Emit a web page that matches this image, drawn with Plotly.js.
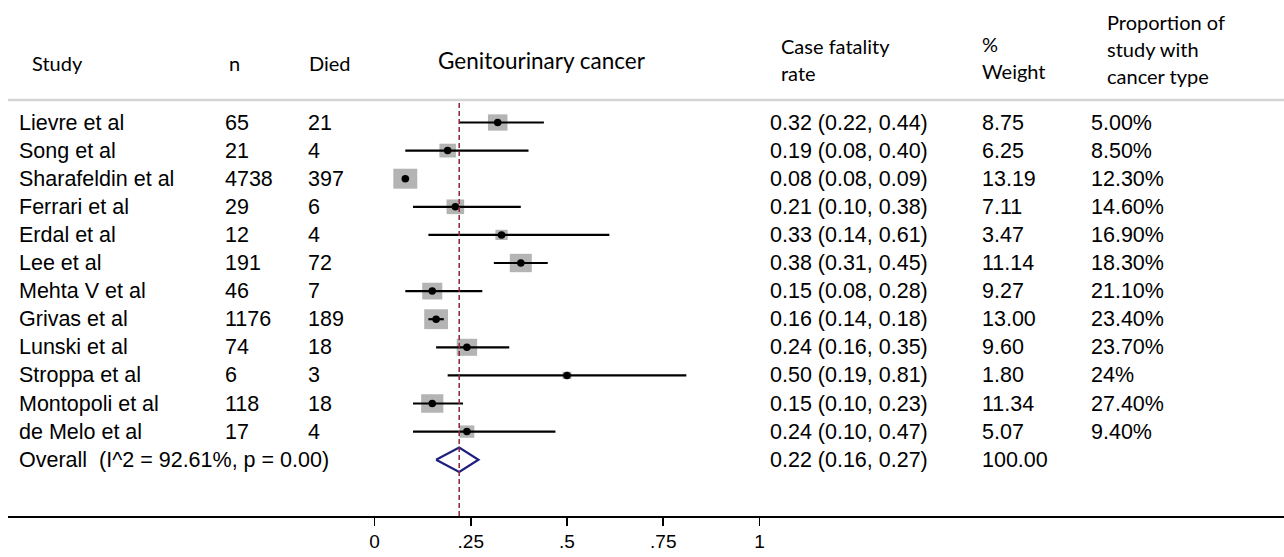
<!DOCTYPE html>
<html>
<head>
<meta charset="utf-8">
<script src="https://cdn.plot.ly/plotly-3.0.1.min.js"></script>
<style>
  html, body { margin: 0; padding: 0; background: #fff; }
  #chart { width: 1284px; height: 557px; }
</style>
</head>
<body>
<div id="chart"></div>
<script>
// Case fatality rates in genitourinary cancer, per study
const studies = ["Lievre et al", "Song et al", "Sharafeldin et al", "Ferrari et al", "Erdal et al",
  "Lee et al", "Mehta V et al", "Grivas et al", "Lunski et al", "Stroppa et al",
  "Montopoli et al", "de Melo et al"];
const nPatients = [65, 21, 4738, 29, 12, 191, 46, 1176, 74, 6, 118, 17];
const died = [21, 4, 397, 6, 4, 72, 7, 189, 18, 3, 18, 4];
const rate = [0.32, 0.19, 0.08, 0.21, 0.33, 0.38, 0.15, 0.16, 0.24, 0.50, 0.15, 0.24];
const lower = [0.22, 0.08, 0.08, 0.10, 0.14, 0.31, 0.08, 0.14, 0.16, 0.19, 0.10, 0.10];
const upper = [0.44, 0.40, 0.09, 0.38, 0.61, 0.45, 0.28, 0.18, 0.35, 0.81, 0.23, 0.47];
const weight = [8.75, 6.25, 13.19, 7.11, 3.47, 11.14, 9.27, 13.00, 9.60, 1.80, 11.34, 5.07];
const proportion = ["5.00%", "8.50%", "12.30%", "14.60%", "16.90%", "18.30%", "21.10%",
  "23.40%", "23.70%", "24%", "27.40%", "9.40%"];

// Pooled estimate
const overallRate = 0.22;
const overallLower = 0.16;
const overallUpper = 0.27;
const overallWeight = 100.00;
const i2 = 92.61;
const pHet = 0.00;

// Axis ticks
const tickValues = [0, 0.25, 0.5, 0.75, 1];
const tickLabels = ["0", ".25", ".5", ".75", "1"];

// ---- geometry helpers (page pixels -> paper coordinates) ----
const W = 1284, H = 557;
const ML = 8, MR = 0, MT = 0, MB = 41;
const plotW = W - ML - MR, plotH = H - MT - MB;
const X0PX = 374.5, XUNIT = 385;       // pixel of rate 0, pixels per unit rate
const ROW0PX = 122.5, ROWSTEP = 28.1;  // pixel of first row, row spacing
const px2paperX = px => (px - ML) / plotW;
const px2paperY = py => (MT + plotH - py) / plotH;

const nRows = studies.length;
const overallRow = nRows;
const rows = studies.map((_, i) => i);

const rowFont = { family: "Arial, Liberation Sans, sans-serif", size: 21.5, color: "#000" };
const headFont = { family: "Lato, sans-serif", size: 20, color: "#000" };

// ---- traces ----
const ciX = [], ciY = [];
rows.forEach(i => { ciX.push(lower[i], upper[i], null); ciY.push(i, i, null); });

const ciTrace = {
  type: "scatter", mode: "lines", x: ciX, y: ciY,
  line: { color: "#000", width: 2.2 }, hoverinfo: "skip", showlegend: false
};
const pointTrace = {
  type: "scatter", mode: "markers", x: rate, y: rows,
  marker: { symbol: "circle", size: 7.5, color: "#000" }, showlegend: false
};
const dh = 12.2 / ROWSTEP;
const diamondTrace = {
  type: "scatter", mode: "lines",
  x: [overallLower, overallRate, overallUpper, overallRate, overallLower],
  y: [overallRow, overallRow - dh, overallRow, overallRow + dh, overallRow],
  line: { color: "#1f1f80", width: 2.2 }, hoverinfo: "skip", showlegend: false
};

// ---- shapes: weight boxes, separator, pooled reference line ----
const shapes = [];
rows.forEach(i => {
  const s = Math.sqrt(weight[i]);
  const bw = 6.6 * s, bh = 5.5 * s;
  shapes.push({
    type: "rect", layer: "below",
    xref: "x", yref: "y", xsizemode: "pixel", ysizemode: "pixel",
    xanchor: rate[i], yanchor: i,
    x0: -bw / 2, x1: bw / 2, y0: -bh / 2, y1: bh / 2,
    fillcolor: "#b4b4b4", line: { width: 0 }
  });
});
shapes.push({
  type: "line", xref: "paper", yref: "paper", x0: 0, x1: 1,
  y0: px2paperY(100), y1: px2paperY(100),
  line: { color: "#d4d4d4", width: 2.5 }
});
shapes.push({
  type: "line", layer: "above", xref: "x", yref: "paper",
  x0: overallRate, x1: overallRate, y0: 0, y1: px2paperY(103),
  line: { color: "#8b2535", width: 1.5, dash: "5px,3px" }
});

// ---- annotations: headers and table columns ----
const annotations = [];
function headAt(text, px, py, anchor, font) {
  annotations.push({
    text: text, xref: "paper", yref: "paper",
    x: px2paperX(px), y: px2paperY(py), xanchor: anchor || "left", yanchor: "middle",
    showarrow: false, font: font || headFont
  });
}
headAt("Study", 30, 63);
headAt("n", 227, 63);
headAt("Died", 307, 63);
headAt("Genitourinary cancer", 542, 61, "center", Object.assign({}, headFont, { size: 22.5 }));
headAt("Case fatality", 779, 46);
headAt("rate", 779, 73);
headAt("%", 980, 44);
headAt("Weight", 980, 71);
headAt("Proportion of", 1105, 22);
headAt("study with", 1105, 49);
headAt("cancer type", 1105, 76);

function cellAt(text, px, row) {
  annotations.push({
    text: text, xref: "paper", yref: "y",
    x: px2paperX(px), y: row, xanchor: "left", yanchor: "middle",
    showarrow: false, font: rowFont
  });
}
const fmt = v => v.toFixed(2);
rows.forEach(i => {
  cellAt(studies[i], 17, i);
  cellAt(String(nPatients[i]), 223, i);
  cellAt(String(died[i]), 306, i);
  cellAt(`${fmt(rate[i])} (${fmt(lower[i])}, ${fmt(upper[i])})`, 768, i);
  cellAt(fmt(weight[i]), 980, i);
  cellAt(proportion[i], 1089, i);
});
cellAt(`Overall\u00a0\u00a0(I^2 = ${i2.toFixed(2)}%, p = ${pHet.toFixed(2)})`, 17, overallRow);
cellAt(`${fmt(overallRate)} (${fmt(overallLower)}, ${fmt(overallUpper)})`, 768, overallRow);
cellAt(fmt(overallWeight), 980, overallRow);

const layout = {
  width: W, height: H,
  margin: { l: ML, r: MR, t: MT, b: MB, pad: 0 },
  paper_bgcolor: "#fff", plot_bgcolor: "#fff",
  showlegend: false,
  xaxis: {
    range: [(ML - X0PX) / XUNIT, (W - MR - X0PX) / XUNIT],
    tickvals: tickValues, ticktext: tickLabels,
    showgrid: false, zeroline: false,
    showline: true, linecolor: "#000", linewidth: 1.6,
    ticks: "outside", ticklen: 8, tickwidth: 1.6, tickcolor: "#000",
    tickfont: { family: "Arial, Liberation Sans, sans-serif", size: 19, color: "#000" },
    automargin: false, fixedrange: true
  },
  yaxis: {
    range: [(MT + plotH - ROW0PX) / ROWSTEP, (MT - ROW0PX) / ROWSTEP],
    visible: false, showgrid: false, zeroline: false, automargin: false, fixedrange: true
  },
  shapes: shapes,
  annotations: annotations,
  hovermode: false
};

Plotly.newPlot("chart", [ciTrace, diamondTrace, pointTrace], layout, { staticPlot: true, displayModeBar: false });
</script>
</body>
</html>
